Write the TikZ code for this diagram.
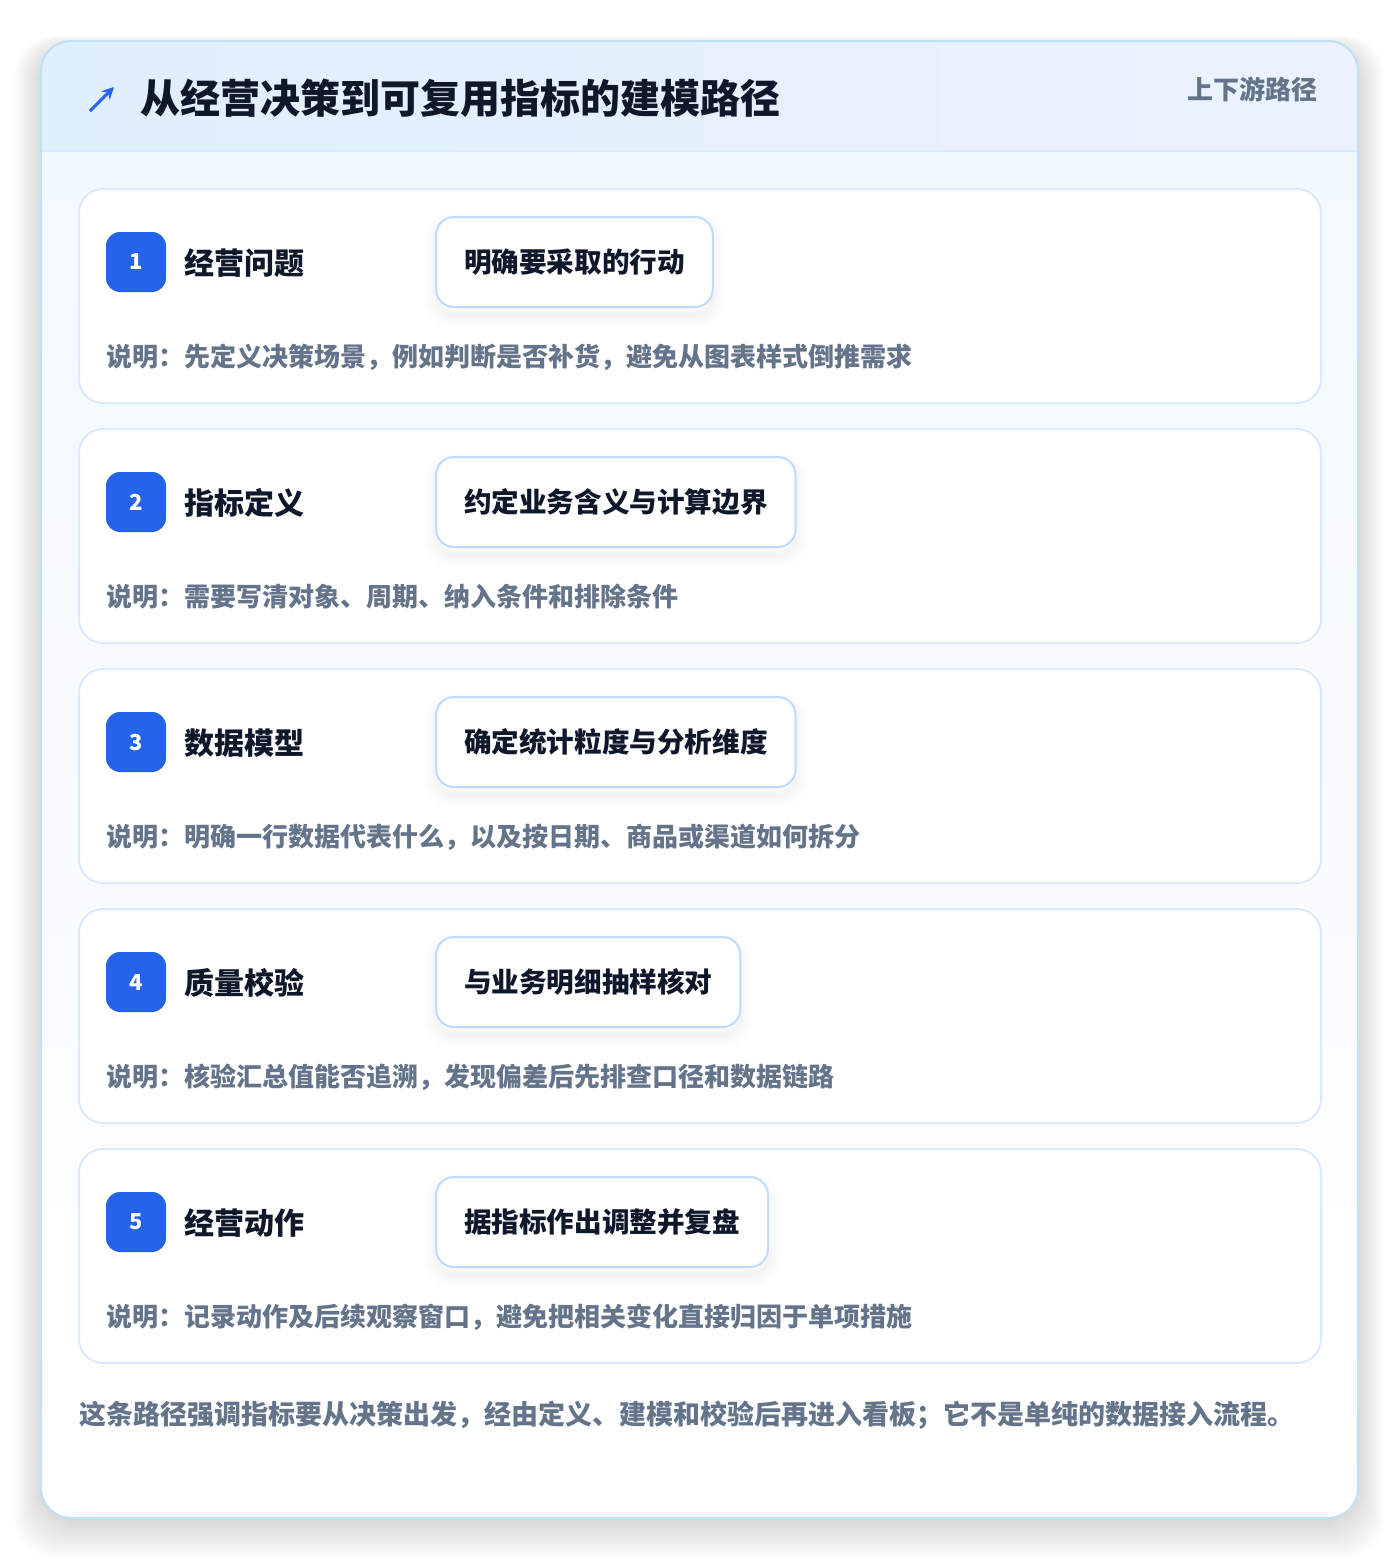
\documentclass[tikz,border=0pt]{standalone}
\usepackage{fontspec}
\setmainfont{Noto Sans CJK SC}
\usetikzlibrary{arrows.meta}

\definecolor{brand}{HTML}{2563EB}
\definecolor{ink}{HTML}{0F172A}
\definecolor{muted}{HTML}{64748B}
\definecolor{rim}{HTML}{BFE0F5}
\definecolor{cardrim}{HTML}{DBEAFE}
\definecolor{pillrim}{HTML}{BFDBFE}
\definecolor{headL}{HTML}{E0EFFD}
\definecolor{headR}{HTML}{EBF2FD}
\definecolor{bodytop}{HTML}{F1F8FE}

\def\px{0.5pt}

\tikzset{
  softshadow/.style={preaction={draw=black, draw opacity=0.012, line width=#1,
    transform canvas={yshift=-4pt}}},
  stepcard/.style={draw=cardrim, line width=1pt, fill=white, rounded corners=12pt},
  badge/.style={fill=brand, rounded corners=7pt, minimum width=30pt, minimum height=30pt,
    inner sep=0pt, text=white, font=\bfseries\fontsize{11}{11}\selectfont},
  steptitle/.style={anchor=west, inner sep=0pt, text=ink, font=\bfseries\fontsize{15}{15}\selectfont},
  pill/.style={softshadow=12pt, softshadow=8pt, softshadow=4pt, softshadow=1pt,
    draw=pillrim, line width=1pt, fill=white, rounded corners=9pt, minimum height=45pt,
    inner xsep=14pt, anchor=west, text=ink, font=\bfseries\fontsize{13.8}{13.8}\selectfont},
  note/.style={anchor=west, inner sep=0pt, text=muted, font=\bfseries\fontsize{13}{13}\selectfont},
}

\begin{document}
\begin{tikzpicture}[x=\px,y=-\px]
\useasboundingbox (0,0) rectangle (1400,1560);
\fill [white] (0,0) rectangle (1400,1560);
% soft shadow of the outer card, heavier below
\foreach \k in {1,...,18}
  \fill [black, opacity=0.006, rounded corners=20pt]
    (41-1.5*\k,45-0.5*\k) rectangle (1358+1.5*\k,1522+2*\k);
% outer card
\shade [rounded corners=15pt, top color=bodytop, bottom color=white] (41,41) rectangle (1358,1518);
\begin{scope}
\clip [rounded corners=15pt] (41,41) rectangle (1358,1518);
% header band
\shade [left color=headL, right color=headR] (41,41) rectangle (1358,151);
\draw [cardrim, line width=1pt] (41,151) -- (1358,151);
\end{scope}
\draw [rim, line width=1pt, rounded corners=15pt] (41,41) rectangle (1358,1518);

% header texts
\coordinate (tail) at (90,111);
\coordinate (tip) at (114,87);
\draw [brand, line width=1.5pt, -{Stealth[length=6pt,width=6pt]}] (tail) -- (tip);
\node (title) [anchor=west, inner sep=0pt, text=ink, font=\bfseries\fontsize{20}{20}\selectfont]
  at (140,98) {从经营决策到可复用指标的建模路径};
\node (tag) [anchor=east, inner sep=0pt, text=muted, font=\bfseries\fontsize{13}{13}\selectfont]
  at (1318,89) {上下游路径};

% the five steps
\foreach \n/\lbl/\act/\txt in {
  1/经营问题/明确要采取的行动/说明：先定义决策场景，例如判断是否补货，避免从图表样式倒推需求,
  2/指标定义/约定业务含义与计算边界/说明：需要写清对象、周期、纳入条件和排除条件,
  3/数据模型/确定统计粒度与分析维度/说明：明确一行数据代表什么，以及按日期、商品或渠道如何拆分,
  4/质量校验/与业务明细抽样核对/说明：核验汇总值能否追溯，发现偏差后先排查口径和数据链路,
  5/经营动作/据指标作出调整并复盘/说明：记录动作及后续观察窗口，避免把相关变化直接归因于单项措施}
{
  \pgfmathsetmacro\dy{240*(\n-1)}
  \draw [stepcard] (79,189+\dy) rectangle (1321,403+\dy);
  \node (badge\n) [badge] at (136,262+\dy) {\n};
  \node (label\n) [steptitle] at (184,263+\dy) {\lbl};
  \node (action\n) [pill] at (435,262+\dy) {\act};
  \node (note\n) [note] at (106,357+\dy) {\txt};
}

% closing remark
\node (remark) [anchor=west, inner sep=0pt, text=muted, font=\bfseries\fontsize{13.5}{13.5}\selectfont]
  at (79,1415) {这条路径强调指标要从决策出发，经由定义、建模和校验后再进入看板；它不是单纯的数据接入流程。};
\end{tikzpicture}
\end{document}
